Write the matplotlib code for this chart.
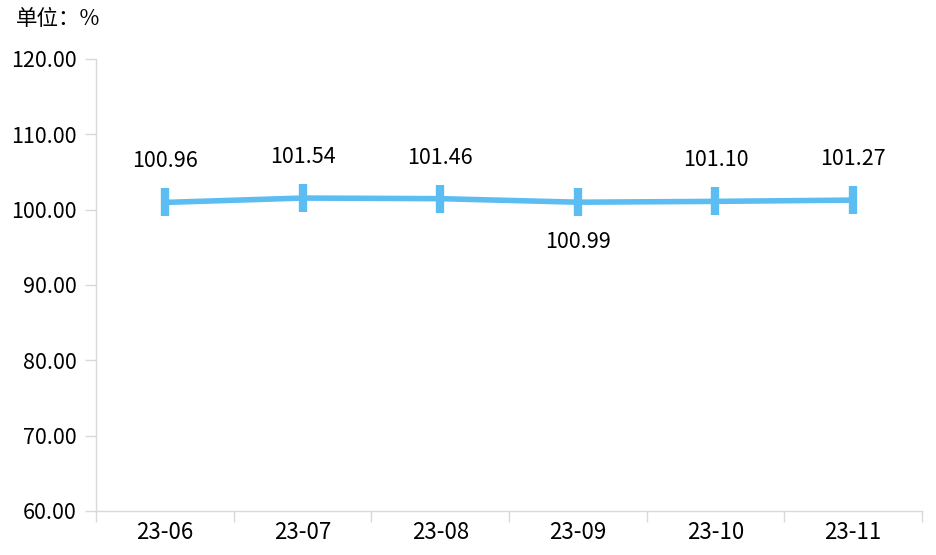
import matplotlib
matplotlib.use('Agg')
import matplotlib.pyplot as plt
import numpy as np

plt.rcParams['font.family'] = ['Noto Sans CJK SC', 'DejaVu Sans']

months = ['23-06', '23-07', '23-08', '23-09', '23-10', '23-11']
values = [100.96, 101.54, 101.46, 100.99, 101.10, 101.27]
label_above = [True, True, True, False, True, True]

line_color = '#5BBDF2'
grid_color = '#D9D9D9'

fig = plt.figure(figsize=(9.36, 5.55), dpi=100)
ax = fig.add_axes([0.1026, 0.0793, 0.8824, 0.8144])

x = np.arange(len(months))
ax.plot(x, values, color=line_color, linewidth=4, solid_capstyle='round',
        marker='|', markersize=20, markeredgewidth=6, zorder=3)

for xi, v, up in zip(x, values, label_above):
    ax.annotate(f'{v:.2f}', (xi, v), xytext=(0, 41 if up else -40),
                textcoords='offset pixels', ha='center', va='center',
                fontsize=15.5, color='#000000')

ax.set_xlim(-0.5, len(months) - 0.5)
ax.set_ylim(60, 120)
ax.set_yticks(np.arange(60, 121, 10))
ax.set_yticklabels([f'{t:.2f}' for t in np.arange(60, 121, 10)])

ax.set_xticks(x)
ax.set_xticklabels(months)
ax.set_xticks(np.arange(-0.5, len(months), 1), minor=True)
ax.tick_params(axis='x', which='major', length=0, pad=7, labelsize=16)
ax.tick_params(axis='x', which='minor', length=8, color=grid_color, width=1)
ax.tick_params(axis='y', length=8, color=grid_color, width=1, pad=6, labelsize=15.5)

for s in ['top', 'right']:
    ax.spines[s].set_visible(False)
for s in ['left', 'bottom']:
    ax.spines[s].set_color(grid_color)
    ax.spines[s].set_linewidth(1)

fig.text(0.017, 0.965, '单位：%', fontsize=15.5, ha='left', va='center')

fig.savefig('out.png', dpi=100)
